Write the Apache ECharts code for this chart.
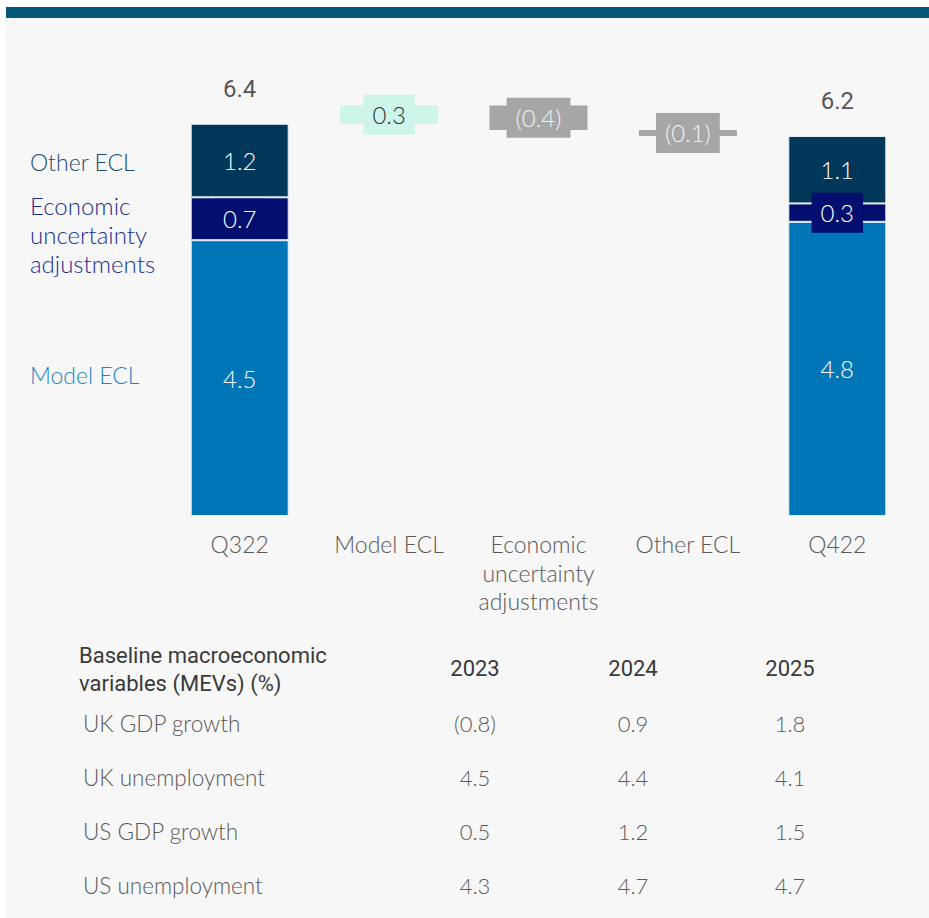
<!DOCTYPE html>
<html>
<head>
<meta charset="utf-8">
<script src="https://cdn.jsdelivr.net/npm/echarts@6/dist/echarts.min.js"></script>
<style>
  html, body { margin: 0; padding: 0; background: #fff; }
  #band { position: absolute; left: 6px; top: 7px; width: 923px; height: 11px; background: #03587A; }
  #panel { position: absolute; left: 6px; top: 18px; width: 923px; height: 900px; background: #F7F7F7; }
  #chart { position: absolute; left: 0; top: 0; width: 929px; height: 918px; }
</style>
</head>
<body>
<div id="band"></div>
<div id="panel"></div>
<div id="chart"></div>
<script>
// ECL bridge Q322 -> Q422 (£bn)
const categories = ["Q322", "Model ECL", "Economic\nuncertainty\nadjustments", "Other ECL", "Q422"];
const modelEcl = [4.5, "-", "-", "-", 4.8];
const econAdj = [0.7, "-", "-", "-", 0.3];
const otherEcl = [1.2, "-", "-", "-", 1.1];
const totals = [6.4, "-", "-", "-", 6.2];
const movements = ["-", 0.3, -0.4, -0.1, "-"];

// table of baseline MEVs
const tableYears = ["2023", "2024", "2025"];
const tableRows = ["UK GDP growth", "UK unemployment", "US GDP growth", "US unemployment"];
const tableValues = [
  ["(0.8)", "0.9", "1.8"],
  ["4.5", "4.4", "4.1"],
  ["0.5", "1.2", "1.5"],
  ["4.3", "4.7", "4.7"]
];

const FONT = "Lato, 'Open Sans', sans-serif";
const FONT_MED = "Roboto, 'Noto Sans', sans-serif";
const C_MODEL = "#0076B6";
const C_ECON = "#020F6E";
const C_OTHER = "#01385A";
const C_UP = "#CDF5E9";
const C_DOWN = "#A6A6A6";

// waterfall floating bars
let running = totals[0];
const baseData = [];
const moveData = [];
movements.forEach(function (m, i) {
  if (m === "-") {
    baseData.push("-");
    moveData.push("-");
    return;
  }
  const next = running + m;
  baseData.push(Math.min(running, next));
  const col = m >= 0 ? C_UP : C_DOWN;
  moveData.push({
    value: Math.abs(m),
    raw: m,
    itemStyle: { color: col },
    label: { backgroundColor: col, color: m >= 0 ? "#333" : "#F2F2F2" }
  });
  running = next;
});

function segLabel(color) {
  return {
    show: true,
    position: "inside",
    color: "#fff",
    fontFamily: FONT,
    fontSize: 24,
    fontWeight: 300,
    lineHeight: 24,
    backgroundColor: color,
    padding: [8, 9]
  };
}

function txt(text, x, y, size, color, align, weight, lh, family) {
  return {
    type: "text",
    x: x,
    y: y,
    style: {
      text: text,
      fill: color,
      font: (weight || 400) + " " + size + "px " + (family || FONT),
      textAlign: align || "left",
      align: align || "left",
      textVerticalAlign: "middle",
      verticalAlign: "middle",
      lineHeight: lh || size
    }
  };
}

const graphics = [
  txt("Other ECL", 30, 162, 23, "#1E4C6E", "left", 300),
  txt("Economic\nuncertainty\nadjustments", 30, 234, 24, "#1A2F92", "left", 300, 29),
  txt("Model ECL", 30, 375, 23, "#1A86C6", "left", 300),
  txt("Baseline macroeconomic\nvariables (MEVs) (%)", 79, 669, 22, "#3A3A3A", "left", 400, 28, FONT_MED)
];
const colX = [475, 633, 790];
tableYears.forEach(function (y, j) {
  graphics.push(txt(y, colX[j], 668, 22, "#3A3A3A", "center", 400, 22, FONT_MED));
});
tableRows.forEach(function (r, i) {
  const yy = 723 + i * 54;
  graphics.push(txt(r, 83, yy, 22.5, "#5A5A5A", "left", 300));
  tableValues[i].forEach(function (v, j) {
    graphics.push(txt(v, colX[j], yy, 22, "#5A5A5A", "center", 300));
  });
});

const chart = echarts.init(document.getElementById("chart"), null, { renderer: "svg" });
chart.setOption({
  animation: false,
  backgroundColor: "transparent",
  grid: { left: 165, right: 17, top: 87, bottom: 402 },
  xAxis: {
    type: "category",
    data: categories,
    axisLine: { show: false },
    axisTick: { show: false },
    axisLabel: {
      color: "#595959",
      fontFamily: FONT,
      fontSize: 23,
      fontWeight: 300,
      lineHeight: 28.5,
      margin: 14,
      interval: 0
    }
  },
  yAxis: {
    type: "value",
    min: 0,
    max: 7,
    show: false,
    splitLine: { show: false }
  },
  series: [
    {
      name: "Model ECL",
      type: "bar",
      stack: "ecl",
      barWidth: 98,
      data: modelEcl,
      itemStyle: { color: C_MODEL, borderColor: "#E6EEF4", borderWidth: 1 },
      label: segLabel(C_MODEL)
    },
    {
      name: "Economic uncertainty adjustments",
      type: "bar",
      stack: "ecl",
      data: econAdj,
      itemStyle: { color: C_ECON, borderColor: "#E6EEF4", borderWidth: 1 },
      label: segLabel(C_ECON)
    },
    {
      name: "Other ECL",
      type: "bar",
      stack: "ecl",
      data: otherEcl,
      itemStyle: { color: C_OTHER, borderColor: "#E6EEF4", borderWidth: 1 },
      label: segLabel(C_OTHER)
    },
    {
      name: "base",
      type: "bar",
      stack: "ecl",
      data: baseData,
      itemStyle: { color: "transparent" },
      silent: true
    },
    {
      name: "movement",
      type: "bar",
      stack: "ecl",
      data: moveData,
      label: {
        show: true,
        position: "inside",
        fontFamily: FONT,
        fontSize: 24,
        fontWeight: 300,
        lineHeight: 24,
        padding: [8, 9],
        formatter: function (p) {
          const m = p.data.raw;
          return m >= 0 ? m.toFixed(1) : "(" + Math.abs(m).toFixed(1) + ")";
        }
      }
    },
    {
      name: "total",
      type: "scatter",
      data: totals,
      symbolSize: 0,
      label: {
        show: true,
        position: "top",
        distance: 23,
        color: "#2A2A2A",
        fontFamily: FONT_MED,
        fontSize: 24,
        fontWeight: 400,
        lineHeight: 24,
        formatter: function (p) { return p.value.toFixed(1); }
      }
    }
  ],
  graphic: graphics
});
</script>
</body>
</html>
